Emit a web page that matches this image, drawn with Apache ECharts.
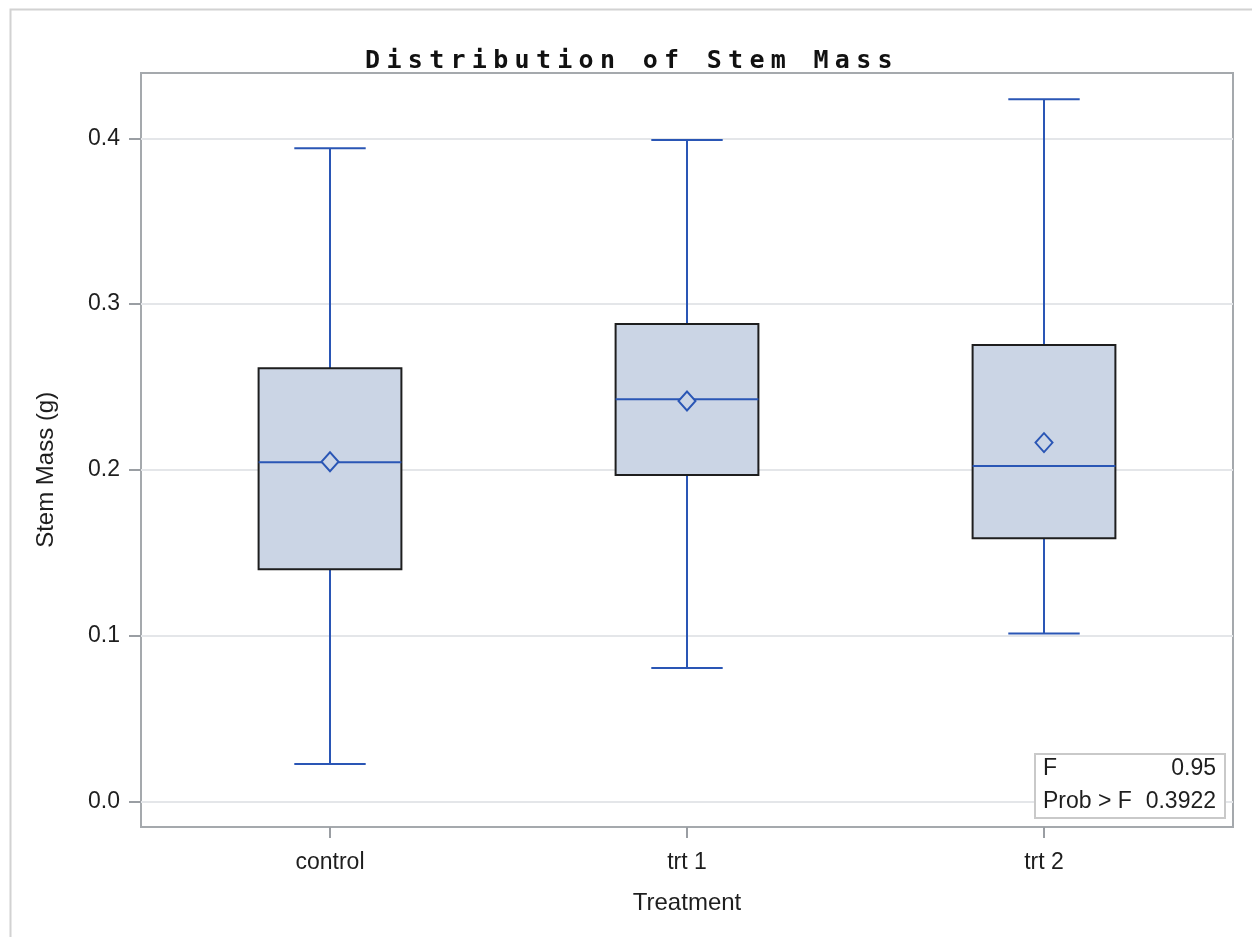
<!DOCTYPE html>
<html>
<head>
<meta charset="utf-8">
<script src="https://cdn.jsdelivr.net/npm/echarts@6/dist/echarts.min.js"></script>
<style>
html,body{margin:0;padding:0;background:#fff;}
#chart{width:1252px;height:937px;}
</style>
</head>
<body>
<div id="chart"></div>
<script>
// ---- data ----
const categories = ['control', 'trt 1', 'trt 2'];
const minVals    = [0.0225, 0.0804, 0.1012];
const q1Vals     = [0.1400, 0.1969, 0.1587];
const medianVals = [0.2045, 0.2425, 0.2023];
const q3Vals     = [0.2612, 0.2880, 0.2753];
const maxVals    = [0.3940, 0.3990, 0.4235];
const meanVals   = [0.2049, 0.2415, 0.2164];
const statLabels = ['F', 'Prob > F'];
const statValues = ['0.95', '0.3922'];
const titleText = 'Distribution of Stem Mass';
const xTitle = 'Treatment';
const yTitle = 'Stem Mass (g)';

// letter spacing for the monospace title font
(function(){
  const orig = CanvasRenderingContext2D.prototype.fillText;
  CanvasRenderingContext2D.prototype.fillText = function(t, x, y, w){
    try { this.letterSpacing = (this.font.indexOf('DejaVu Sans Mono') >= 0) ? '6.3px' : '0px'; } catch(e){}
    return w === undefined ? orig.call(this, t, x, y) : orig.call(this, t, x, y, w);
  };
})();

const FONT = "'Liberation Sans', Arial, sans-serif";
const BLUE = '#2a56b5';
const FILL = '#cbd5e5';
const TXT = '#1e1e1e';
const STAT_FONT = "23px 'Liberation Sans', Arial";

const boxData = categories.map((c, i) => [i, minVals[i], q1Vals[i], medianVals[i], q3Vals[i], maxVals[i]]);
const meanData = categories.map((c, i) => [i, meanVals[i]]);

function renderBox(params, api) {
  const x = api.value(0);
  const lo = api.coord([x, api.value(1)]);
  const q1 = api.coord([x, api.value(2)]);
  const med = api.coord([x, api.value(3)]);
  const q3 = api.coord([x, api.value(4)]);
  const hi = api.coord([x, api.value(5)]);
  const band = api.size([1, 0])[0];
  const bw = band * 0.4, cw = band * 0.2;
  const cx = lo[0];
  const ls = { stroke: BLUE, lineWidth: 2 };
  return {
    type: 'group',
    children: [
      { type: 'line', shape: { x1: cx, y1: q3[1], x2: cx, y2: hi[1] }, style: ls },
      { type: 'line', shape: { x1: cx, y1: q1[1], x2: cx, y2: lo[1] }, style: ls },
      { type: 'line', shape: { x1: cx - cw / 2, y1: hi[1], x2: cx + cw / 2, y2: hi[1] }, style: ls },
      { type: 'line', shape: { x1: cx - cw / 2, y1: lo[1], x2: cx + cw / 2, y2: lo[1] }, style: ls },
      { type: 'rect', shape: { x: cx - bw / 2, y: q3[1], width: bw, height: q1[1] - q3[1] },
        style: { fill: FILL, stroke: '#1e1e1e', lineWidth: 2 } },
      { type: 'line', shape: { x1: cx - bw / 2, y1: med[1], x2: cx + bw / 2, y2: med[1] }, style: ls }
    ]
  };
}

const chart = echarts.init(document.getElementById('chart'), null, { renderer: 'canvas' });
chart.setOption({
  animation: false,
  backgroundColor: '#ffffff',
  title: {
    text: titleText,
    left: 632, top: 49, padding: 0,
    textAlign: 'center',
    textStyle: { fontFamily: "'DejaVu Sans Mono', monospace", fontWeight: 'bold', fontSize: 25, color: '#111' }
  },
  grid: [
    { left: 141, top: 73, width: 1092, height: 754, show: true, borderColor: '#a5a9ad', borderWidth: 2, backgroundColor: 'transparent' },
    { left: 141, top: 138.3, width: 1092, height: 663 },
    { left: 151.5, top: 73, width: 1071, height: 754 }
  ],
  xAxis: [
    { gridIndex: 0, type: 'value', show: false },
    { gridIndex: 1, type: 'value', show: false },
    { gridIndex: 2, type: 'category', data: categories, boundaryGap: true, position: 'bottom',
      axisLine: { show: false, onZero: false },
      axisTick: { show: true, alignWithLabel: true, length: 11, lineStyle: { color: '#9a9ea3', width: 2 } },
      axisLabel: { margin: 24, fontSize: 23, color: TXT, fontFamily: FONT },
      splitLine: { show: false },
      name: xTitle, nameLocation: 'middle', nameGap: 64,
      nameTextStyle: { fontSize: 24, color: TXT, fontFamily: FONT } }
  ],
  yAxis: [
    { gridIndex: 0, type: 'value', show: false },
    { gridIndex: 1, type: 'value', min: 0, max: 0.4, interval: 0.1,
      axisLine: { show: false },
      axisTick: { show: true, length: 12, lineStyle: { color: '#9a9ea3', width: 2 } },
      axisLabel: { margin: 21, fontSize: 23, color: TXT, fontFamily: FONT, padding: [5, 0, 0, 0],
        formatter: v => v.toFixed(1) },
      splitLine: { show: true, lineStyle: { color: '#e4e6e9', width: 2 } },
      name: yTitle, nameLocation: 'middle', nameGap: 83,
      nameTextStyle: { fontSize: 24, color: TXT, fontFamily: FONT } },
    { gridIndex: 2, type: 'value', min: -0.0155, max: 0.4394, show: false, splitLine: { show: false } }
  ],
  series: [
    { type: 'custom', xAxisIndex: 2, yAxisIndex: 2, renderItem: renderBox, data: boxData, z: 3,
      encode: { x: 0, y: [1, 2, 3, 4, 5] } },
    { type: 'scatter', xAxisIndex: 2, yAxisIndex: 2, data: meanData, z: 5,
      symbol: 'diamond', symbolSize: [17, 19],
      itemStyle: { color: FILL, borderColor: BLUE, borderWidth: 2, opacity: 1 } }
  ],
  graphic: [
    { type: 'rect', left: 8, top: 7, z: -10, silent: true,
      shape: { x: 0, y: 0, width: 1262, height: 1000 },
      style: { fill: 'none', stroke: '#d2d2d2', lineWidth: 2 } },
    { type: 'rect', left: 1034, top: 753, z: 100, zlevel: 1,
      shape: { x: 0, y: 0, width: 190, height: 64 },
      style: { fill: '#ffffff', stroke: '#c9c9c9', lineWidth: 2 } },
    { type: 'text', left: 1043, top: 767 - 10, z: 101, zlevel: 1,
      style: { text: statLabels[0], font: STAT_FONT, fill: TXT } },
    { type: 'text', right: 1252 - 1216, top: 767 - 10, z: 101, zlevel: 1,
      style: { text: statValues[0], font: STAT_FONT, fill: TXT } },
    { type: 'text', left: 1043, top: 800 - 10, z: 101, zlevel: 1,
      style: { text: statLabels[1], font: STAT_FONT, fill: TXT } },
    { type: 'text', right: 1252 - 1216, top: 800 - 10, z: 101, zlevel: 1,
      style: { text: statValues[1], font: STAT_FONT, fill: TXT } }
  ]
});
</script>
</body>
</html>
